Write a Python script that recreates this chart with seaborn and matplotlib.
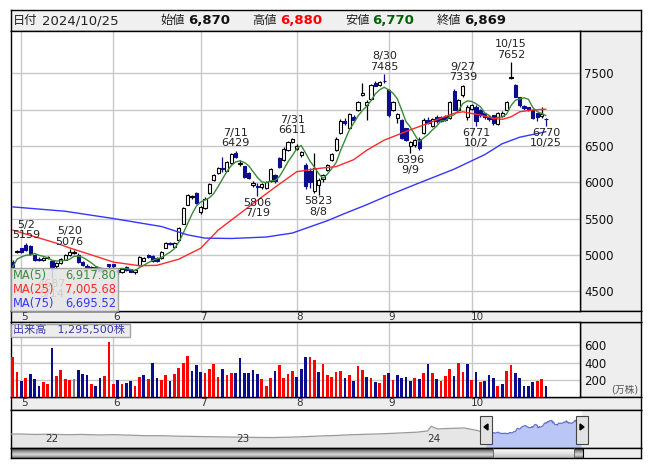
import numpy as np
import pandas as pd
import matplotlib
matplotlib.use("Agg")
import matplotlib.pyplot as plt
import seaborn as sns
from matplotlib.patches import Rectangle, Polygon
from matplotlib.colors import LinearSegmentedColormap

# ---------------- data ----------------
start_date = "2024-04-26"
end_date = "2024-10-25"
holidays = ["2024-04-29", "2024-05-03", "2024-05-06", "2024-07-15",
            "2024-08-12", "2024-09-16", "2024-09-23", "2024-10-14"]

opens = [4905, 5040, 5090, 5140, 5120, 4995, 4940, 4935, 4955, 4920,
         4840, 4890, 4935, 5000, 5030, 5000, 4900, 4850, 4820, 4830,
         4800, 4780, 4870, 4870, 4790, 4768, 4830, 4800, 4770, 4860,
         4920, 5000, 4990, 4960, 4950, 5100, 5160, 5110, 5200, 5430,
         5690, 5790, 5845, 5595, 5640, 5850, 6030, 6130, 6195, 6160,
         6265, 6405, 6250, 6220, 6130, 5955, 5950, 5930, 5915, 6010,
         6100, 6340, 6300, 6450, 6560, 6455, 6375, 6240, 6150, 5880,
         5960, 6040, 6170, 6300, 6445, 6680, 6840, 6750, 6900, 6990,
         7200, 7060, 7140, 7370, 7335, 7400, 7270, 7000, 6880, 6860,
         6740, 6500, 6510, 6600, 6680, 6860, 6770, 6900, 6900, 6910,
         6880, 7250, 7000, 7200, 6900, 7005, 7040, 6990, 6950, 6900,
         6920, 6800, 6915, 7000, 7430, 7340, 7170, 7050, 7030, 7000,
         6950, 6910, 6870]
highs = [4925, 5070, 5100, 5159, 5135, 5010, 4975, 4970, 4985, 4930,
         4900, 4950, 5010, 5076, 5060, 5020, 4920, 4870, 4850, 4840,
         4820, 4820, 4880, 4880, 4800, 4810, 4840, 4810, 4800, 4990,
         4970, 5010, 5000, 4970, 5050, 5170, 5180, 5170, 5380, 5660,
         5840, 5830, 5860, 5670, 5790, 5995, 6110, 6210, 6350, 6290,
         6400, 6429, 6300, 6230, 6140, 6010, 5990, 5990, 6020, 6200,
         6110, 6350, 6480, 6570, 6611, 6520, 6430, 6260, 6200, 6400,
         6060, 6120, 6250, 6400, 6620, 6870, 6880, 6960, 6920, 7120,
         7370, 7130, 7350, 7390, 7400, 7485, 7290, 7120, 6960, 6870,
         6750, 6570, 6600, 6620, 6880, 6900, 6880, 6920, 6910, 6930,
         7120, 7280, 7150, 7339, 7060, 7080, 7060, 7010, 6960, 6920,
         6930, 6970, 6980, 7120, 7652, 7350, 7180, 7060, 7040, 7010,
         6960, 7030, 6880]
lows = [4815, 5020, 5020, 5050, 5000, 4920, 4910, 4920, 4940, 4687,
        4820, 4880, 4925, 4990, 5010, 4890, 4840, 4800, 4800, 4780,
        4760, 4770, 4790, 4815, 4740, 4755, 4780, 4760, 4740, 4850,
        4910, 4960, 4900, 4900, 4940, 5090, 5130, 5100, 5190, 5420,
        5680, 5770, 5700, 5560, 5630, 5840, 6010, 6120, 6140, 6150,
        6250, 6330, 6230, 6060, 6040, 5930, 5806, 5900, 5900, 6000,
        5990, 6200, 6290, 6430, 6540, 6440, 6350, 5900, 5920, 5850,
        5823, 6000, 6150, 6290, 6430, 6670, 6790, 6740, 6850, 6980,
        7190, 6857, 7130, 7320, 7320, 7370, 6900, 6980, 6810, 6590,
        6570, 6396, 6480, 6450, 6660, 6800, 6760, 6820, 6830, 6850,
        6870, 6990, 6980, 7180, 6860, 6990, 6771, 6900, 6870, 6850,
        6790, 6790, 6900, 6990, 7420, 7170, 7030, 6990, 6980, 6870,
        6850, 6880, 6770]
closes = [4830, 5050, 5035, 5060, 5010, 4935, 4930, 4960, 4965, 4830,
          4890, 4940, 4995, 5035, 5035, 4900, 4860, 4820, 4830, 4800,
          4780, 4800, 4840, 4850, 4770, 4800, 4790, 4770, 4785, 4975,
          4960, 4970, 4920, 4910, 5040, 5160, 5150, 5160, 5365, 5640,
          5820, 5805, 5710, 5660, 5775, 5980, 6095, 6195, 6180, 6280,
          6395, 6345, 6270, 6070, 6055, 5990, 5940, 5970, 6005, 6185,
          6010, 6210, 6460, 6555, 6600, 6495, 6420, 5950, 6000, 6190,
          6030, 6100, 6235, 6385, 6600, 6850, 6810, 6940, 6860, 7100,
          7225, 7105, 7335, 7330, 7380, 7390, 6930, 7105, 6945, 6605,
          6580, 6555, 6580, 6470, 6860, 6815, 6870, 6840, 6850, 6860,
          7100, 7000, 7130, 7330, 7040, 7065, 6840, 6930, 6900, 6870,
          6810, 6960, 6950, 7100, 7450, 7180, 7060, 7020, 7000, 6880,
          6900, 6940, 6869]
volumes = [462, 289, 185, 219, 266, 208, 127, 173, 150, 566,
           243, 312, 208, 200, 208, 312, 266, 254, 150, 127,
           219, 243, 635, 150, 196, 150, 162, 185, 127, 231,
           254, 208, 393, 219, 196, 254, 185, 266, 335, 393,
           474, 300, 370, 289, 277, 323, 381, 231, 323, 254,
           277, 277, 450, 277, 277, 312, 266, 208, 127, 219,
           300, 370, 219, 266, 300, 231, 323, 462, 462, 427,
           289, 381, 254, 231, 289, 300, 219, 254, 185, 358,
           312, 231, 219, 173, 162, 254, 277, 196, 254, 219,
           231, 185, 219, 208, 277, 381, 277, 208, 185, 243,
           323, 243, 393, 289, 381, 196, 289, 173, 185, 254,
           219, 127, 150, 300, 370, 277, 219, 127, 127, 173,
           185, 208, 130]          # 万株
prev_close = 4800

ma25_dates = ["2024-04-26", "2024-05-08", "2024-05-15", "2024-05-20", "2024-05-29",
              "2024-06-03", "2024-06-11", "2024-06-17", "2024-06-24", "2024-07-01",
              "2024-07-05", "2024-07-17", "2024-07-25", "2024-08-01", "2024-08-08",
              "2024-08-15", "2024-08-21", "2024-08-26", "2024-08-30", "2024-09-04",
              "2024-09-06", "2024-09-13", "2024-09-18", "2024-09-25", "2024-09-27",
              "2024-10-03", "2024-10-08", "2024-10-10", "2024-10-15", "2024-10-17",
              "2024-10-22", "2024-10-25"]
ma25_vals = [5340, 5250, 5160, 5095, 4960, 4900, 4850, 4855, 4940, 5090,
             5340, 5660, 5930, 6145, 6190, 6215, 6310, 6440, 6580, 6650,
             6700, 6810, 6860, 6950, 6970, 6925, 6880, 6866, 6900, 6970,
             6995, 7006]
ma75_dates = ["2024-04-26", "2024-05-17", "2024-06-03", "2024-06-18", "2024-06-26",
              "2024-07-02", "2024-07-10", "2024-07-23", "2024-07-31", "2024-08-13",
              "2024-08-19", "2024-08-26", "2024-09-02", "2024-09-11", "2024-09-25",
              "2024-10-04", "2024-10-10", "2024-10-17", "2024-10-23", "2024-10-25"]
ma75_vals = [5660, 5600, 5500, 5390, 5275, 5230, 5225, 5245, 5300, 5470,
             5570, 5690, 5820, 5990, 6180, 6380, 6530, 6620, 6670, 6696]

nav_dates = ["2021-10-20", "2021-11-15", "2021-12-15", "2022-01-14", "2022-02-15",
             "2022-03-15", "2022-04-15", "2022-05-16", "2022-06-15", "2022-07-15",
             "2022-08-15", "2022-09-15", "2022-10-14", "2022-11-15", "2022-12-15",
             "2023-01-16", "2023-02-15", "2023-03-15", "2023-04-14", "2023-05-15",
             "2023-06-15", "2023-07-14", "2023-08-15", "2023-09-15", "2023-10-16",
             "2023-11-15", "2023-12-15", "2024-01-05", "2024-01-12", "2024-01-25",
             "2024-02-15", "2024-03-15", "2024-04-10"]
nav_vals = [4650, 4700, 4600, 4650, 4550, 4600, 4500, 4550, 4450, 4350,
            4350, 4250, 4200, 4150, 4100, 4050, 4000, 3980, 4050, 4150,
            4300, 4400, 4550, 4650, 4750, 4900, 5050, 5300, 6200, 5700,
            5800, 5900, 5400]
nav_years = ["2022-01-04", "2023-01-04", "2024-01-04"]
nav_year_labels = ["22", "23", "24"]

high_marks = ["2024-05-02", "2024-05-20", "2024-07-11", "2024-07-31",
              "2024-08-30", "2024-09-27", "2024-10-15"]
low_marks = ["2024-05-14", "2024-07-19", "2024-08-08", "2024-09-09",
             "2024-10-02", "2024-10-25"]

price_ticks = [4500, 5000, 5500, 6000, 6500, 7000, 7500]
vol_ticks = [200, 400, 600]
legend_rows = [("MA(5)", "6,917.80"), ("MA(25)", "7,005.68"), ("MA(75)", "6,695.52")]
header_items = [("日付", "2024/10/25"), ("始値", "6,870"), ("高値", "6,880"),
                ("安値", "6,770"), ("終値", "6,869")]
volume_label = "出来高　1,295,500株"
vol_unit = "(万株)"

# ---------------- styling ----------------
sns.set_style("white")
plt.rcParams["font.family"] = ["DejaVu Sans", "Noto Sans CJK JP"]

W, H = 653, 470
fig = plt.figure(figsize=(W / 100, H / 100), dpi=100)
fig.patch.set_facecolor("white")

NAVY = "#0C0C8E"
RED = "#FF0000"
GREEN_MA = "#3A8A3A"
RED_MA = "#FF2A2A"
BLUE_MA = "#3535FF"
GRID = "#C8C8C8"
PANEL = "#EEEEEE"


def box(x0, y0, x1, y1):
    return [x0 / W, 1 - y1 / H, (x1 - x0) / W, (y1 - y0) / H]


def frect(x0, y0, x1, y1, **kw):
    r = Rectangle((x0 / W, 1 - y1 / H), (x1 - x0) / W, (y1 - y0) / H,
                  transform=fig.transFigure, **kw)
    fig.add_artist(r)
    return r


def ftext(x, y, s, **kw):
    return fig.text(x / W, 1 - y / H, s, **kw)


def plain(ax, face):
    ax.set_facecolor(face)
    ax.set_xticks([])
    ax.set_yticks([])
    for s in ax.spines.values():
        s.set_color("black")
        s.set_linewidth(1)
        s.set_visible(True)


# trading days
dates = pd.bdate_range(start_date, end_date)
dates = dates[~dates.isin(pd.to_datetime(holidays))]
n = len(dates)
x = np.arange(n)
O = np.array(opens, float)
Hh = np.array(highs, float)
L = np.array(lows, float)
C = np.array(closes, float)
V = np.array(volumes, float)

month_idx = sorted(set(i for i in range(1, n) if dates[i].month != dates[i - 1].month))

XMIN, XMAX = -0.39, 129.8
PX0, PX1 = 11, 580

# ---------------- panels ----------------
ax_head = fig.add_axes(box(11, 10, 641, 31)); plain(ax_head, "#F0F0F0")
ax_pr = fig.add_axes(box(580, 31, 641, 311)); plain(ax_pr, PANEL)
ax_vr = fig.add_axes(box(580, 322, 641, 397)); plain(ax_vr, PANEL)
ax_m1 = fig.add_axes(box(11, 311, 641, 322)); plain(ax_m1, PANEL)
ax_m2 = fig.add_axes(box(11, 397, 641, 410)); plain(ax_m2, PANEL)

ax = fig.add_axes(box(PX0, 31, PX1, 311))
axv = fig.add_axes(box(PX0, 322, PX1, 397))

# ---------------- price panel ----------------
ax.set_facecolor("white")
ax.set_xlim(XMIN, XMAX)
ax.set_ylim(4226, 8083)
ax.set_xticks(month_idx)
ax.set_yticks(price_ticks)
ax.grid(True, color=GRID, linewidth=1)
ax.yaxis.tick_right()
ax.tick_params(axis="y", length=0, pad=3, labelsize=8.5, labelcolor="#111111")
ax.tick_params(axis="x", length=0, labelbottom=False)
for s in ax.spines.values():
    s.set_color("black"); s.set_linewidth(1)

up = C >= O
body_col = np.where(up, "white", NAVY)
edge_col = np.where(up, "black", NAVY)
ax.vlines(x, L, Hh, colors=edge_col, linewidth=0.9, zorder=3)
ax.bar(x, np.abs(C - O), bottom=np.minimum(O, C), width=0.74,
       color=body_col, edgecolor=edge_col, linewidth=0.8, zorder=4)

ma5 = pd.Series(C).rolling(5, min_periods=1).mean().values
ma25_x = dates.get_indexer(pd.to_datetime(ma25_dates))
ma75_x = dates.get_indexer(pd.to_datetime(ma75_dates))
sns.lineplot(x=x, y=ma5, ax=ax, color=GREEN_MA, linewidth=1.0, zorder=5, legend=False)
sns.lineplot(x=ma25_x, y=ma25_vals, ax=ax, color=RED_MA, linewidth=1.0, zorder=5, legend=False)
sns.lineplot(x=ma75_x, y=ma75_vals, ax=ax, color=BLUE_MA, linewidth=1.0, zorder=5, legend=False)
ax.set_xlabel(""); ax.set_ylabel("")

for d in high_marks:
    i = dates.get_loc(pd.Timestamp(d))
    ax.annotate(f"{dates[i].month}/{dates[i].day}\n{int(Hh[i])}", xy=(x[i], Hh[i]),
                xytext=(0, 2), textcoords="offset points", ha="center", va="bottom",
                fontsize=8, linespacing=1.05, color="#222222", zorder=6)
for d in low_marks:
    i = dates.get_loc(pd.Timestamp(d))
    ax.annotate(f"{int(L[i])}\n{dates[i].month}/{dates[i].day}", xy=(x[i], L[i]),
                xytext=(0, -1), textcoords="offset points", ha="center", va="top",
                fontsize=8, linespacing=1.05, color="#222222", zorder=6)

# MA legend box (semi-transparent, covering the 5/14 low label as in the original)
frect(11, 268, 118, 311, facecolor="#E4E4E4", edgecolor="#9A9A9A", linewidth=1,
      alpha=0.88, zorder=3)
for (name, val), col, yy in zip(legend_rows, [GREEN_MA, RED_MA, BLUE_MA], [275.5, 289, 303]):
    ftext(13, yy, name, color=col, fontsize=8.3, va="center", ha="left", zorder=4)
    ftext(116, yy, val, color=col, fontsize=8.3, va="center", ha="right", zorder=4)

# ---------------- volume panel ----------------
axv.set_facecolor("white")
axv.set_xlim(XMIN, XMAX)
axv.set_ylim(0, 872)
axv.set_xticks(month_idx)
axv.set_yticks(vol_ticks)
axv.grid(True, color=GRID, linewidth=1)
axv.yaxis.tick_right()
axv.tick_params(axis="y", length=0, pad=3, labelsize=8.5, labelcolor="#111111")
axv.tick_params(axis="x", length=0, labelbottom=False)
for s in axv.spines.values():
    s.set_color("black"); s.set_linewidth(1)
prev = np.r_[prev_close, C[:-1]]
vcol = np.where(C > prev, RED, np.where(C < prev, NAVY, "#808080"))
axv.bar(x, V, width=0.62, color=vcol, linewidth=0, zorder=3)

frect(11, 324, 130, 337, facecolor="#ECECEC", edgecolor="#9A9A9A", linewidth=1,
      alpha=0.9, zorder=3)
ftext(13, 330.5, volume_label, color="#3A3AAE", fontsize=8, va="center", ha="left", zorder=4)
ftext(638, 390, vol_unit, color="#555555", fontsize=7, va="center", ha="right", zorder=4)

# ---------------- month strips ----------------
scale = (641 - 11) / (PX1 - PX0)
for axm in (ax_m1, ax_m2):
    axm.set_xlim(XMIN, XMIN + (XMAX - XMIN) * scale)
    axm.set_ylim(0, 1)
    for i in month_idx:
        axm.text(x[i] - 0.1, 0.5, str(dates[i].month), ha="left", va="center",
                 fontsize=7.5, color="#333333")

# ---------------- header ----------------
hx = [(13, 42), (160, 188), (252, 280), (345, 372), (437, 464)]
vcols = ["#222222", "#111111", "#FF0000", "#006400", "#111111"]
for (lab, val), (lx, vx), col in zip(header_items, hx, vcols):
    ftext(lx, 20.5, lab, fontsize=8.8, va="center", ha="left", color="#222222")
    ftext(vx, 20.5, val, fontsize=9.5,
          fontweight="normal" if lab == "日付" else "bold",
          va="center", ha="left", color=col)

# ---------------- navigator ----------------
base = np.datetime64(start_date)
NAV_S = 0.731
nav_x0 = 486


def bd(d):
    return np.busday_count(base, np.datetime64(pd.Timestamp(d).date()))


ax_nav = fig.add_axes(box(11, 410, 641, 448))
plain(ax_nav, "white")
ax_nav.set_xlim((11 - nav_x0) / NAV_S, (641 - nav_x0) / NAV_S)
ax_nav.set_ylim(1890, 9490)
hist_x = np.array([bd(d) for d in nav_dates])
sel_x = np.array([bd(d) for d in dates])
sel_left = -0.5
sel_right = sel_x[-1] + 1.5
all_x = np.r_[hist_x, sel_x]
all_y = np.r_[nav_vals, C]
ax_nav.fill_between(all_x, all_y, 1890, color="#E6E6E6", linewidth=0, zorder=1)
ax_nav.fill_between(sel_x, C, 1890, color="#B9C6F6", linewidth=0, zorder=2)
sns.lineplot(x=np.r_[hist_x, sel_x[:1]], y=np.r_[nav_vals, C[:1]], ax=ax_nav,
             color="#9A9A9A", linewidth=0.9, zorder=3, legend=False)
sns.lineplot(x=sel_x, y=C, ax=ax_nav, color="#6272C8", linewidth=0.9, zorder=3, legend=False)
ax_nav.axvspan(sel_right, (641 - nav_x0) / NAV_S, color=PANEL, zorder=2, linewidth=0)
ax_nav.set_xticks([]); ax_nav.set_yticks([])
ax_nav.set_xlabel(""); ax_nav.set_ylabel("")
for d, lab in zip(nav_years, nav_year_labels):
    ax_nav.text(bd(d), 3700, lab, fontsize=7.5, color="#333333", ha="left", va="center", zorder=5)

# scrollbar
ax_sc = fig.add_axes(box(11, 448, 641, 458))
plain(ax_sc, PANEL)
dark = LinearSegmentedColormap.from_list("d", ["#2A2A2A", "#9A9A9A", "#DADADA", "#7A7A7A"])
light = LinearSegmentedColormap.from_list("l", ["#FFFFFF", "#E6E6E6", "#BDBDBD"])
grad = np.linspace(0, 1, 20).reshape(-1, 1)
ax_sc.imshow(grad, extent=(11, 583, 458, 448), aspect="auto", cmap=dark, zorder=1)
ax_sc.imshow(grad, extent=(493, 574, 458, 448), aspect="auto", cmap=light, zorder=2)
ax_sc.set_xlim(11, 641); ax_sc.set_ylim(458, 448)
ax_sc.axvline(583, color="black", linewidth=0.8, zorder=3)
ax_sc.axvline(493, color="#555555", linewidth=0.6, zorder=3)
ax_sc.axvline(574, color="#555555", linewidth=0.6, zorder=3)

# selection edge lines and handles
for cx, direction in ((486, -1), (582, 1)):
    frect(cx - 0.4, 410, cx + 0.4, 458, facecolor="#3399CC", edgecolor="none", zorder=4)
    frect(cx - 6, 416, cx + 6, 444, facecolor="#E2E2E2", edgecolor="#444444",
          linewidth=0.8, zorder=5)
    tri = Polygon([((cx + 2 * direction) / W, 1 - 427 / H),
                   ((cx - 2 * direction) / W, 1 - 424 / H),
                   ((cx - 2 * direction) / W, 1 - 430 / H)],
                  closed=True, transform=fig.transFigure, facecolor="black",
                  edgecolor="black", zorder=6)
    fig.add_artist(tri)

fig.savefig("out.png", dpi=100)
